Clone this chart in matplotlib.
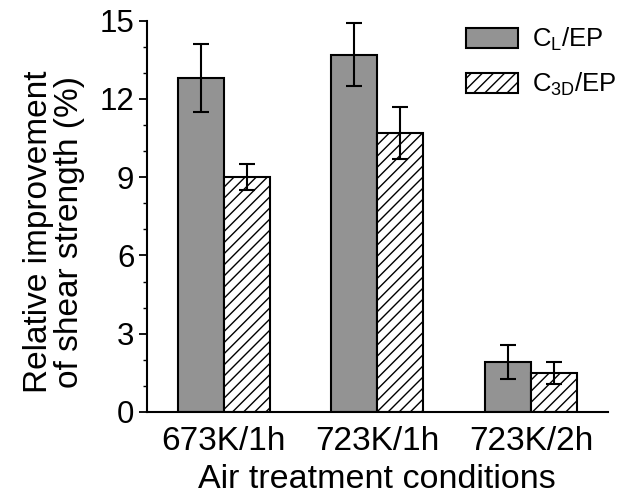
import numpy as np
import matplotlib
matplotlib.use('Agg')
import matplotlib.pyplot as plt
from matplotlib.ticker import MultipleLocator

plt.rcParams['font.family'] = ['Liberation Sans', 'DejaVu Sans']
plt.rcParams['hatch.linewidth'] = 1.0

conditions = ['673K/1h', '723K/1h', '723K/2h']
cl_ep = [12.8, 13.7, 1.9]
cl_err = [1.3, 1.2, 0.65]
c3d_ep = [9.0, 10.7, 1.5]
c3d_err = [0.5, 1.0, 0.42]

fig = plt.figure(figsize=(6.17, 4.94), dpi=100)
ax = fig.add_axes([0.238, 0.166, 0.747, 0.792])

x = np.arange(len(conditions))
w = 0.3
ekw = dict(elinewidth=1.5, capthick=1.5, ecolor='black')
ax.bar(x - w / 2, cl_ep, w, yerr=cl_err, capsize=6, color='#939393',
       edgecolor='black', linewidth=1.5, error_kw=ekw,
       label=r'$\mathregular{C_L}$/EP')
ax.bar(x + w / 2, c3d_ep, w, yerr=c3d_err, capsize=6, color='white',
       edgecolor='black', linewidth=1.5, hatch='///', error_kw=ekw,
       label=r'$\mathregular{C_{3D}}$/EP')

ax.set_xlim(-0.5, 2.5)
ax.set_ylim(0, 15)
ax.set_xticks(x)
ax.set_xticklabels(conditions)
ax.yaxis.set_major_locator(MultipleLocator(3))
ax.yaxis.set_minor_locator(MultipleLocator(1))
ax.tick_params(axis='y', which='major', length=6, width=1.3, labelsize=22.5, pad=3)
ax.tick_params(axis='y', which='minor', length=3, width=1.0)
ax.tick_params(axis='x', length=0, labelsize=24, pad=10)

for s in ['top', 'right']:
    ax.spines[s].set_visible(False)
for s in ['left', 'bottom']:
    ax.spines[s].set_linewidth(1.5)

ax.set_xlabel('Air treatment conditions', fontsize=24.5, labelpad=5)
ax.set_ylabel('Relative improvement\nof shear strength (%)', fontsize=24,
              linespacing=1.0)
ax.yaxis.set_label_coords(-0.134, 0.46)

ax.legend(loc='upper right', bbox_to_anchor=(1.03, 1.0), frameon=False,
          fontsize=18.5, handlelength=2.0, handleheight=0.85,
          labelspacing=0.7, handletextpad=0.55, borderpad=0.2,
          borderaxespad=0.0)

fig.savefig('out.png', dpi=100)
